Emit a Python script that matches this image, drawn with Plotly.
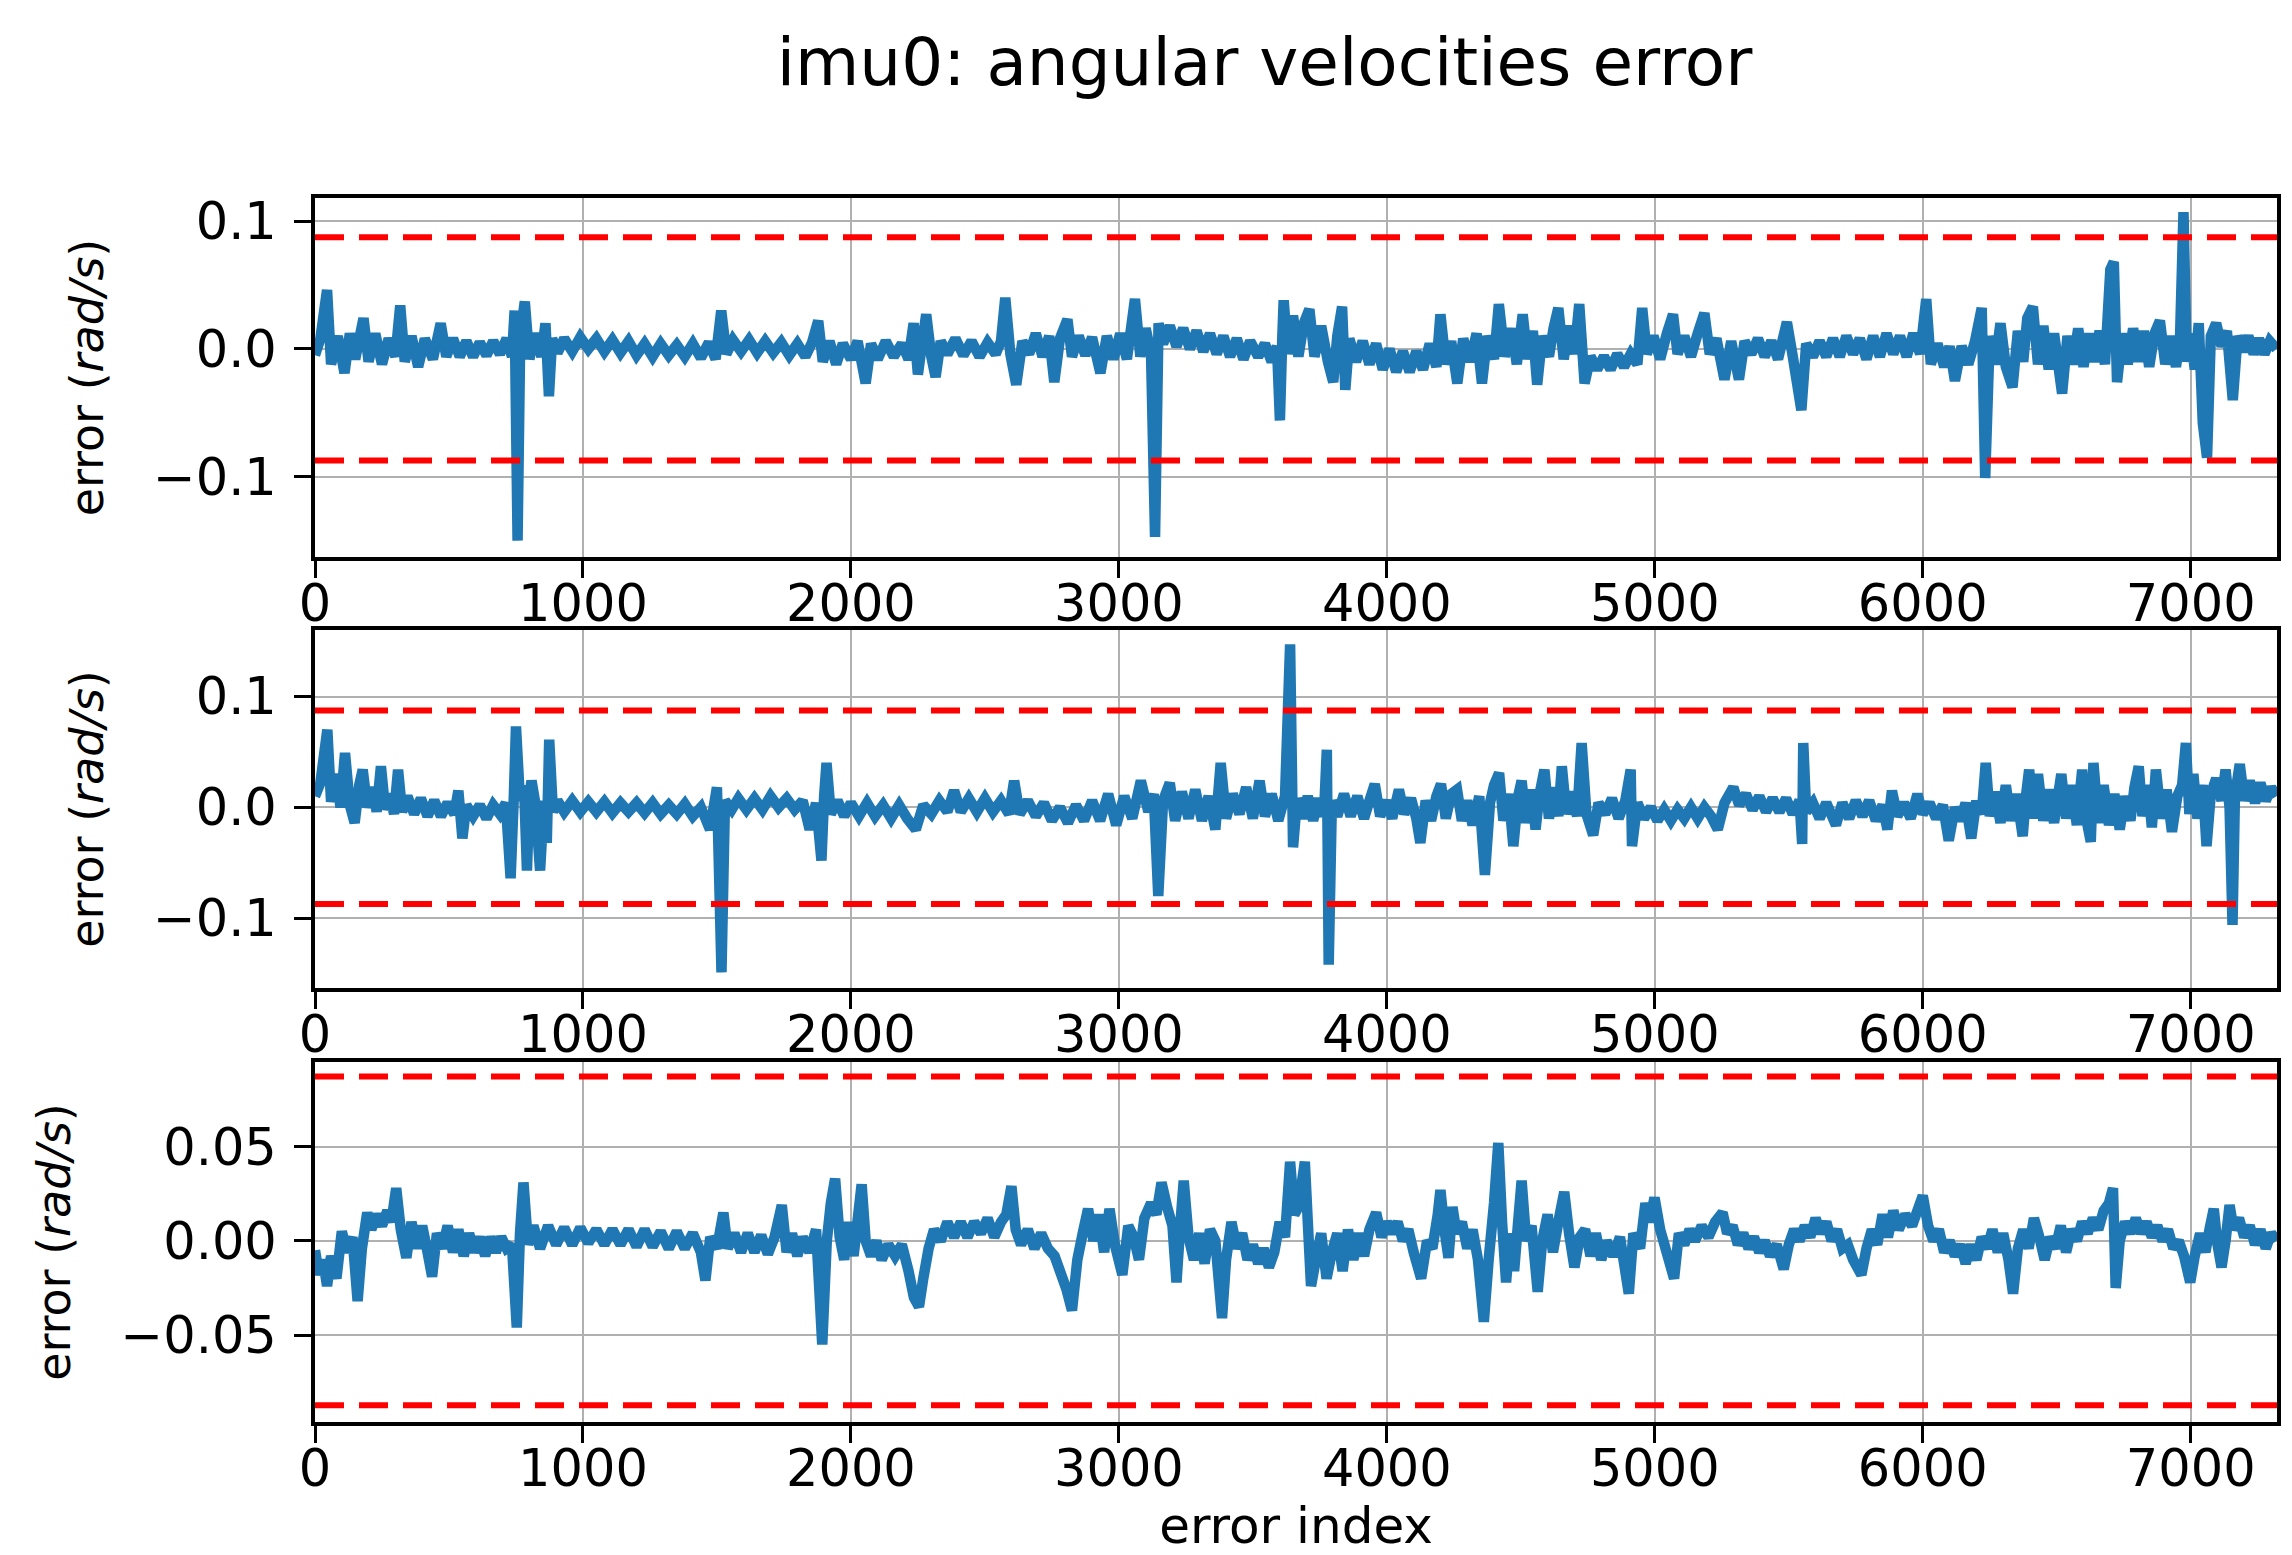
import plotly.graph_objects as go

# ---------------- data ----------------
N_SAMPLES = 7322
THRESHOLD = [0.0873, -0.0873]
X_TICKS = [0, 1000, 2000, 3000, 4000, 5000, 6000, 7000]
Y_TICKS_12 = [-0.1, 0.0, 0.1]
Y_TICKTEXT_12 = ["\u22120.1", "0.0", "0.1"]
Y_TICKS_3 = [-0.05, 0.0, 0.05]
Y_TICKTEXT_3 = ["\u22120.05", "0.00", "0.05"]

idx1 = [
    0, 20, 45, 60, 85, 110, 130, 150, 181, 200,
    225, 250, 275, 300, 318, 335, 360, 385, 410, 440,
    469, 490, 515, 540, 565, 590, 615, 640, 665, 690,
    715, 735, 745, 756, 766, 783, 800, 820, 845, 860,
    873, 885, 905, 930, 960, 990, 1020, 1050, 1080, 1110,
    1140, 1170, 1200, 1230, 1260, 1290, 1320, 1350, 1380, 1410,
    1440, 1470, 1495, 1516, 1535, 1560, 1590, 1620, 1650, 1680,
    1710, 1740, 1770, 1800, 1830, 1855, 1878, 1895, 1920, 1945,
    1970, 2000, 2025, 2055, 2075, 2100, 2130, 2160, 2190, 2215,
    2234, 2250, 2268, 2281, 2300, 2316, 2335, 2360, 2390, 2420,
    2450, 2480, 2510, 2540, 2560, 2576, 2595, 2617, 2640, 2665,
    2690, 2715, 2740, 2759, 2780, 2808, 2825, 2850, 2875, 2900,
    2931, 2955, 2980, 3005, 3030, 3060, 3080, 3100, 3120, 3135,
    3148, 3165, 3190, 3215, 3240, 3265, 3290, 3315, 3340, 3365,
    3390, 3415, 3440, 3465, 3490, 3520, 3545, 3570, 3590, 3601,
    3610, 3615, 3630, 3650, 3670, 3690, 3711, 3730, 3755, 3780,
    3800, 3815, 3833, 3845, 3860, 3885, 3910, 3935, 3960, 3985,
    4010, 4035, 4060, 4085, 4110, 4135, 4160, 4185, 4200, 4220,
    4240, 4263, 4285, 4310, 4335, 4355, 4375, 4400, 4418, 4440,
    4465, 4485, 4507, 4525, 4545, 4561, 4580, 4605, 4622, 4640,
    4660, 4680, 4700, 4718, 4738, 4760, 4785, 4810, 4835, 4860,
    4885, 4910, 4935, 4953, 4970, 4995, 5020, 5045, 5068, 5085,
    5110, 5135, 5160, 5185, 5205, 5230, 5260, 5285, 5314, 5335,
    5360, 5385, 5410, 5435, 5460, 5493, 5515, 5547, 5565, 5590,
    5615, 5640, 5665, 5690, 5715, 5740, 5765, 5790, 5815, 5840,
    5865, 5890, 5915, 5940, 5965, 5990, 6013, 6030, 6055, 6080,
    6100, 6120, 6145, 6170, 6195, 6220, 6233, 6250, 6270, 6290,
    6310, 6335, 6355, 6375, 6390, 6411, 6430, 6450, 6470, 6490,
    6520, 6540, 6560, 6580, 6600, 6620, 6640, 6660, 6680, 6700,
    6713, 6725, 6745, 6765, 6785, 6805, 6825, 6845, 6865, 6885,
    6905, 6925, 6945, 6960, 6973, 6985, 7000, 7015, 7030, 7045,
    7061, 7075, 7095, 7115, 7135, 7157, 7175, 7195, 7215, 7235,
    7255, 7275, 7295, 7320,
]
err1 = [
    -0.005, 0.008, 0.046, -0.012, 0.010, -0.019, 0.012, -0.008, 0.024, -0.010,
    0.012, -0.012, 0.008, -0.006, 0.034, -0.010, 0.010, -0.014, 0.008, -0.008,
    0.020, -0.006, 0.008, -0.006, 0.006, -0.006, 0.005, -0.005, 0.006, -0.004,
    0.008, -0.006, 0.030, -0.150, 0.010, 0.037, -0.008, 0.012, -0.006, 0.020,
    -0.037, 0.008, -0.003, 0.008, -0.002, 0.009, 0.000, 0.008, -0.002, 0.007,
    -0.003, 0.006, -0.005, 0.004, -0.006, 0.004, -0.005, 0.003, -0.006, 0.004,
    -0.007, 0.005, -0.008, 0.030, -0.004, 0.007, -0.002, 0.007, -0.003, 0.006,
    -0.003, 0.005, -0.005, 0.004, -0.006, 0.005, 0.022, -0.010, 0.006, -0.012,
    0.004, -0.008, 0.006, -0.027, 0.004, -0.008, 0.006, -0.006, 0.004, -0.008,
    0.020, -0.020, 0.008, 0.027, -0.006, -0.022, 0.006, -0.004, 0.008, -0.005,
    0.006, -0.006, 0.005, -0.004, 0.006, 0.040, -0.004, -0.028, 0.006, -0.004,
    0.012, -0.006, 0.010, -0.026, 0.008, 0.023, -0.006, 0.010, -0.005, 0.009,
    -0.019, 0.010, -0.008, 0.012, -0.008, 0.039, -0.006, 0.016, -0.004, -0.147,
    0.020, 0.004, 0.018, 0.002, 0.016, 0.000, 0.014, -0.002, 0.012, -0.004,
    0.010, -0.006, 0.008, -0.008, 0.006, -0.006, 0.004, -0.010, 0.002, -0.056,
    0.010, 0.038, -0.004, 0.026, -0.006, 0.020, 0.031, -0.006, 0.018, -0.010,
    -0.026, 0.010, 0.033, -0.032, 0.008, -0.010, 0.006, -0.012, 0.004, -0.016,
    0.000, -0.018, -0.002, -0.018, -0.002, -0.016, 0.004, -0.014, 0.027, -0.012,
    0.006, -0.027, 0.008, -0.010, 0.012, -0.027, 0.010, -0.008, 0.035, -0.006,
    0.016, -0.012, 0.027, -0.008, 0.014, -0.028, 0.010, -0.006, 0.016, 0.032,
    -0.008, 0.018, -0.004, 0.035, -0.027, -0.006, -0.016, -0.006, -0.016, -0.004,
    -0.014, -0.004, -0.012, 0.032, -0.004, 0.010, -0.008, 0.012, 0.027, -0.004,
    0.010, -0.006, 0.012, 0.028, -0.004, 0.008, -0.024, 0.006, -0.024, 0.006,
    -0.004, 0.008, -0.006, 0.006, -0.008, 0.021, -0.006, -0.048, 0.004, -0.006,
    0.006, -0.006, 0.008, -0.006, 0.010, -0.004, 0.008, -0.008, 0.010, -0.006,
    0.012, -0.004, 0.010, -0.006, 0.012, -0.004, 0.039, -0.012, 0.004, -0.014,
    0.002, -0.025, 0.002, -0.012, 0.006, 0.032, -0.101, 0.010, -0.012, 0.020,
    -0.014, -0.030, 0.014, -0.010, 0.024, 0.033, -0.012, 0.018, -0.016, 0.012,
    -0.035, 0.010, -0.012, 0.016, -0.014, 0.012, -0.010, 0.014, -0.012, 0.062,
    0.068, -0.026, 0.012, -0.012, 0.016, -0.010, 0.014, -0.014, 0.012, 0.022,
    -0.012, 0.010, -0.014, 0.008, 0.107, -0.010, 0.012, -0.016, 0.020, -0.058,
    -0.085, 0.010, 0.020, 0.002, 0.014, -0.040, 0.010, -0.002, 0.010, -0.004,
    0.008, -0.004, 0.006, 0.000,
]

idx2 = [
    0, 20, 46, 60, 80, 95, 112, 130, 148, 165,
    178, 195, 215, 230, 246, 262, 280, 295, 310, 325,
    345, 370, 395, 420, 445, 470, 495, 520, 535, 550,
    565, 590, 615, 640, 665, 690, 712, 730, 742, 750,
    765, 780, 791, 800, 808, 822, 840, 855, 865, 874,
    888, 905, 930, 960, 990, 1020, 1050, 1080, 1110, 1140,
    1170, 1200, 1230, 1260, 1290, 1320, 1350, 1380, 1410, 1440,
    1474, 1500, 1517, 1530, 1555, 1580, 1610, 1640, 1670, 1700,
    1730, 1760, 1790, 1820, 1846, 1870, 1890, 1900, 1909, 1925,
    1950, 1975, 2000, 2030, 2060, 2090, 2120, 2150, 2180, 2210,
    2242, 2270, 2300, 2330, 2360, 2385, 2410, 2440, 2470, 2500,
    2530, 2560, 2590, 2609, 2630, 2660, 2690, 2720, 2750, 2780,
    2810, 2840, 2870, 2900, 2930, 2960, 2990, 3020, 3050, 3082,
    3110, 3130, 3147, 3165, 3190, 3210, 3235, 3260, 3285, 3310,
    3335, 3360, 3380, 3400, 3425, 3450, 3475, 3500, 3525, 3545,
    3570, 3595, 3620, 3639, 3650, 3665, 3685, 3705, 3725, 3745,
    3765, 3776, 3783, 3795, 3815, 3840, 3865, 3890, 3915, 3935,
    3955, 3975, 4000, 4020, 4045, 4065, 4090, 4110, 4125, 4145,
    4165, 4185, 4202, 4220, 4240, 4262, 4280, 4300, 4320, 4345,
    4366, 4385, 4400, 4419, 4435, 4455, 4472, 4490, 4503, 4520,
    4540, 4555, 4570, 4588, 4605, 4625, 4640, 4653, 4670, 4690,
    4710, 4727, 4745, 4770, 4790, 4815, 4840, 4865, 4890, 4910,
    4915, 4935, 4960, 4985, 5010, 5035, 5060, 5085, 5110, 5135,
    5160, 5185, 5210, 5235, 5260, 5293, 5315, 5340, 5365, 5390,
    5415, 5440, 5465, 5490, 5515, 5540, 5550, 5554, 5565, 5590,
    5615, 5640, 5676, 5700, 5725, 5750, 5775, 5800, 5825, 5850,
    5868, 5885, 5905, 5930, 5955, 5980, 6000, 6025, 6050, 6075,
    6097, 6120, 6140, 6160, 6181, 6200, 6220, 6235, 6250, 6270,
    6290, 6310, 6330, 6350, 6373, 6385, 6397, 6415, 6430, 6450,
    6470, 6490, 6517, 6535, 6555, 6575, 6595, 6610, 6627, 6637,
    6655, 6675, 6695, 6715, 6735, 6755, 6775, 6790, 6806, 6820,
    6840, 6855, 6870, 6890, 6910, 6930, 6950, 6968, 6982, 6995,
    7010, 7025, 7045, 7059, 7075, 7095, 7115, 7130, 7145, 7156,
    7165, 7183, 7200, 7220, 7240, 7260, 7280, 7300, 7320,
]
err2 = [
    0.010, 0.022, 0.070, 0.005, 0.030, 0.000, 0.049, 0.002, -0.014, 0.020,
    0.034, 0.000, 0.018, -0.004, 0.037, -0.002, 0.012, -0.006, 0.034, -0.004,
    0.010, -0.006, 0.008, -0.008, 0.006, -0.008, 0.004, -0.006, 0.015, -0.028,
    0.002, -0.008, 0.002, -0.010, 0.002, -0.006, 0.004, -0.064, 0.010, 0.073,
    0.006, 0.020, -0.057, 0.010, 0.024, 0.004, -0.057, 0.006, -0.032, 0.061,
    -0.004, 0.006, -0.004, 0.006, -0.004, 0.005, -0.004, 0.005, -0.005, 0.004,
    -0.004, 0.004, -0.005, 0.004, -0.006, 0.002, -0.006, 0.003, -0.008, 0.000,
    -0.020, 0.018, -0.149, 0.006, -0.002, 0.008, -0.002, 0.008, -0.002, 0.010,
    0.000, 0.008, -0.002, 0.006, -0.020, 0.004, -0.048, 0.010, 0.040, -0.006,
    0.006, -0.008, 0.004, -0.008, 0.004, -0.008, 0.002, -0.010, 0.002, -0.010,
    -0.020, 0.002, -0.006, 0.006, -0.004, 0.015, -0.004, 0.008, -0.004, 0.008,
    -0.004, 0.006, -0.006, 0.024, -0.006, 0.006, -0.008, 0.004, -0.012, 0.000,
    -0.014, 0.002, -0.012, 0.006, -0.012, 0.012, -0.016, 0.010, -0.010, 0.024,
    -0.004, 0.012, -0.080, 0.006, 0.022, -0.012, 0.014, -0.010, 0.016, -0.012,
    0.010, -0.020, 0.040, -0.010, 0.012, -0.006, 0.018, -0.010, 0.024, -0.008,
    0.012, -0.012, 0.010, 0.147, -0.036, 0.008, -0.010, 0.010, -0.012, 0.008,
    -0.008, 0.052, -0.142, 0.006, -0.008, 0.012, -0.008, 0.010, -0.010, 0.006,
    0.021, -0.008, 0.006, -0.010, 0.016, -0.006, 0.008, -0.010, -0.032, 0.006,
    -0.012, 0.010, 0.021, -0.010, 0.012, 0.016, -0.012, 0.006, -0.016, 0.010,
    -0.061, 0.004, 0.020, 0.031, -0.012, 0.012, -0.035, 0.010, 0.024, -0.014,
    0.016, -0.020, 0.012, 0.034, -0.010, 0.018, -0.008, 0.037, -0.006, 0.014,
    -0.008, 0.058, -0.006, -0.025, 0.004, -0.006, 0.008, -0.010, 0.006, 0.034,
    -0.035, 0.004, -0.010, 0.000, -0.012, -0.002, -0.012, -0.002, -0.010, 0.000,
    -0.010, 0.000, -0.008, -0.020, 0.004, 0.018, 0.002, 0.012, -0.002, 0.010,
    -0.004, 0.008, -0.004, 0.008, -0.006, 0.006, -0.033, 0.058, -0.004, 0.004,
    -0.010, 0.004, -0.016, 0.004, -0.010, 0.006, -0.008, 0.006, -0.012, 0.002,
    -0.020, 0.015, -0.008, 0.004, -0.010, 0.012, -0.006, 0.004, -0.010, 0.002,
    -0.030, 0.000, -0.012, 0.004, -0.028, 0.006, -0.006, 0.040, -0.008, 0.014,
    -0.014, 0.020, -0.012, 0.012, -0.026, 0.010, 0.034, -0.010, 0.030, -0.012,
    0.016, -0.014, 0.030, -0.010, 0.020, -0.016, 0.034, -0.010, -0.031, 0.040,
    -0.014, 0.020, -0.016, 0.012, -0.020, 0.010, -0.012, 0.018, 0.037, -0.008,
    0.020, -0.018, 0.034, -0.010, 0.016, -0.022, 0.010, 0.020, 0.058, -0.006,
    0.030, -0.010, 0.020, -0.035, 0.012, 0.026, 0.006, 0.034, 0.000, -0.106,
    0.010, 0.039, 0.006, 0.024, 0.004, 0.022, 0.006, 0.018, 0.010,
]

idx3 = [
    0, 15, 30, 45, 60, 80, 100, 120, 140, 159,
    175, 195, 210, 230, 250, 270, 285, 303, 320, 341,
    360, 380, 400, 420, 437, 455, 475, 495, 515, 535,
    555, 575, 595, 615, 635, 655, 675, 695, 715, 735,
    753, 765, 778, 795, 815, 840, 870, 900, 930, 960,
    990, 1020, 1050, 1080, 1110, 1140, 1170, 1200, 1230, 1260,
    1290, 1320, 1350, 1380, 1410, 1440, 1457, 1475, 1500, 1524,
    1540, 1565, 1590, 1615, 1640, 1665, 1690, 1715, 1742, 1760,
    1780, 1800, 1820, 1845, 1870, 1893, 1910, 1925, 1941, 1958,
    1975, 1990, 2010, 2040, 2055, 2075, 2095, 2115, 2140, 2165,
    2190, 2215, 2235, 2254, 2270, 2290, 2310, 2335, 2360, 2385,
    2410, 2435, 2460, 2485, 2510, 2535, 2560, 2580, 2599, 2615,
    2635, 2660, 2685, 2710, 2735, 2760, 2785, 2805, 2825, 2845,
    2865, 2885, 2905, 2925, 2945, 2965, 2985, 3013, 3035, 3055,
    3075, 3095, 3120, 3140, 3159, 3180, 3200, 3215, 3230, 3242,
    3260, 3280, 3300, 3320, 3340, 3360, 3385, 3400, 3420, 3440,
    3460, 3480, 3500, 3520, 3540, 3560, 3580, 3600, 3620, 3639,
    3655, 3670, 3694, 3705, 3717, 3735, 3755, 3775, 3795, 3815,
    3835, 3855, 3875, 3895, 3915, 3935, 3960, 3980, 4000, 4020,
    4040, 4060, 4080, 4100, 4128, 4150, 4170, 4190, 4200, 4215,
    4230, 4245, 4260, 4280, 4300, 4320, 4340, 4362, 4380, 4400,
    4416, 4430, 4445, 4460, 4475, 4490, 4503, 4520, 4540, 4563,
    4580, 4600, 4620, 4640, 4662, 4680, 4700, 4720, 4740, 4760,
    4780, 4800, 4820, 4845, 4870, 4903, 4920, 4945, 4965, 4980,
    4999, 5020, 5040, 5072, 5090, 5110, 5130, 5150, 5175, 5200,
    5225, 5253, 5270, 5290, 5310, 5330, 5350, 5370, 5390, 5410,
    5430, 5455, 5481, 5500, 5520, 5540, 5560, 5580, 5600, 5620,
    5640, 5660, 5680, 5700, 5720, 5740, 5771, 5790, 5810, 5830,
    5850, 5870, 5890, 5910, 5935, 5960, 5980, 6000, 6020, 6040,
    6060, 6080, 6100, 6120, 6140, 6160, 6180, 6200, 6220, 6240,
    6260, 6280, 6300, 6320, 6337, 6355, 6375, 6395, 6415, 6435,
    6455, 6475, 6495, 6515, 6535, 6555, 6575, 6595, 6615, 6635,
    6655, 6675, 6695, 6710, 6720, 6735, 6755, 6775, 6795, 6815,
    6835, 6855, 6875, 6895, 6915, 6935, 6955, 6975, 6998, 7015,
    7035, 7055, 7070, 7086, 7100, 7115, 7130, 7145, 7160, 7180,
    7200, 7220, 7240, 7260, 7280, 7300, 7320,
]
err3 = [
    -0.005, -0.018, -0.010, -0.024, -0.008, -0.020, 0.005, -0.006, 0.002, -0.032,
    -0.004, 0.015, 0.006, 0.014, 0.008, 0.016, 0.010, 0.028, 0.006, -0.009,
    0.010, -0.004, 0.008, -0.006, -0.019, 0.004, -0.004, 0.008, -0.006, 0.006,
    -0.008, 0.004, -0.006, 0.002, -0.008, 0.002, -0.006, 0.002, -0.004, -0.002,
    -0.046, 0.004, 0.031, -0.002, 0.008, -0.004, 0.008, -0.002, 0.007, -0.002,
    0.007, -0.001, 0.006, -0.002, 0.006, -0.002, 0.006, -0.003, 0.006, -0.003,
    0.005, -0.004, 0.005, -0.004, 0.004, -0.006, -0.021, 0.002, -0.004, 0.015,
    -0.004, 0.004, -0.006, 0.004, -0.006, 0.003, -0.007, 0.002, 0.019, -0.006,
    0.004, -0.008, 0.002, -0.006, 0.006, -0.055, 0.000, 0.020, 0.033, 0.002,
    -0.010, 0.010, -0.008, 0.030, 0.000, -0.008, 0.000, -0.010, -0.002, -0.008,
    -0.002, -0.016, -0.030, -0.035, -0.020, -0.004, 0.006, 0.000, 0.010, 0.002,
    0.010, 0.002, 0.010, 0.004, 0.012, 0.002, 0.010, 0.014, 0.029, 0.006,
    -0.002, 0.006, -0.004, 0.004, -0.004, -0.008, -0.018, -0.026, -0.037, -0.010,
    0.004, 0.017, 0.000, 0.014, -0.006, 0.017, -0.002, -0.018, 0.008, 0.002,
    -0.010, 0.012, 0.020, 0.014, 0.031, 0.018, 0.008, -0.022, 0.010, 0.032,
    0.002, -0.010, 0.004, -0.012, 0.006, 0.000, -0.041, -0.010, 0.010, -0.004,
    0.004, -0.010, -0.002, -0.012, -0.004, -0.014, -0.006, 0.010, 0.002, 0.042,
    0.014, 0.018, 0.042, 0.010, -0.024, -0.010, 0.004, -0.020, -0.006, 0.004,
    -0.016, 0.006, -0.010, 0.004, -0.008, 0.006, 0.015, 0.002, 0.010, 0.004,
    0.010, 0.000, 0.006, -0.006, -0.020, 0.000, -0.004, 0.014, 0.027, 0.006,
    -0.009, 0.018, 0.004, 0.010, -0.004, 0.006, -0.010, -0.043, -0.010, 0.020,
    0.052, 0.010, -0.022, 0.004, -0.016, 0.010, 0.032, 0.000, 0.008, -0.027,
    0.000, 0.014, -0.006, 0.010, 0.026, 0.004, -0.014, 0.002, 0.006, -0.008,
    0.004, -0.010, 0.000, -0.008, 0.002, -0.028, 0.004, -0.004, 0.020, 0.010,
    0.023, 0.006, -0.004, -0.020, 0.004, -0.002, 0.006, 0.000, 0.008, 0.002,
    0.010, 0.015, 0.004, 0.008, -0.002, 0.004, -0.004, 0.002, -0.006, 0.000,
    -0.008, -0.002, -0.015, -0.002, 0.006, 0.000, 0.008, 0.002, 0.012, 0.004,
    0.010, 0.000, 0.006, -0.004, -0.002, -0.010, -0.018, -0.004, 0.006, -0.002,
    0.014, 0.002, 0.016, 0.006, 0.014, 0.008, 0.016, 0.024, 0.008, 0.000,
    0.006, -0.006, 0.000, -0.008, -0.002, -0.012, -0.002, -0.010, 0.002, -0.004,
    0.006, -0.006, 0.004, -0.010, -0.028, -0.004, 0.006, -0.004, 0.012, 0.002,
    -0.010, 0.002, -0.004, 0.008, -0.006, 0.006, 0.000, 0.010, 0.004, 0.012,
    0.006, 0.016, 0.020, 0.028, -0.025, 0.000, 0.010, 0.004, 0.012, 0.004,
    0.010, 0.002, 0.008, 0.000, 0.006, -0.004, 0.000, -0.008, -0.022, -0.008,
    0.004, -0.006, 0.006, 0.017, -0.002, -0.014, 0.000, 0.019, 0.006, 0.012,
    0.002, 0.008, -0.002, 0.006, -0.004, 0.004, 0.000,
]

for a, b in ((idx1, err1), (idx2, err2), (idx3, err3)):
    assert len(a) == len(b), (len(a), len(b))

# ---------------- figure ----------------
W, H = 2292, 1555
M_L, M_R, M_T, M_B = 315, 15, 198, 133
plot_h = H - M_T - M_B


def dom(top_px, bot_px):
    return [1 - (bot_px - M_T) / plot_h, 1 - (top_px - M_T) / plot_h]


domains = [dom(198, 557), dom(630, 988), dom(1062, 1422)]
yranges = [[-0.1628, 0.118], [-0.163, 0.160], [-0.0962, 0.0950]]
yticks = [(Y_TICKS_12, Y_TICKTEXT_12), (Y_TICKS_12, Y_TICKTEXT_12), (Y_TICKS_3, Y_TICKTEXT_3)]

FONT = "DejaVu Sans"
BLUE = "#1f77b4"
RED = "#ff0000"

fig = go.Figure()
series = [(idx1, err1), (idx2, err2), (idx3, err3)]
for i, (xs, ys) in enumerate(series):
    xa = "x" if i == 0 else f"x{i + 1}"
    ya = "y" if i == 0 else f"y{i + 1}"
    fig.add_trace(go.Scatter(x=xs, y=ys, mode="lines",
                             line=dict(color=BLUE, width=10.5, simplify=False),
                             xaxis=xa, yaxis=ya, showlegend=False,
                             hoverinfo="skip"))
    for t in THRESHOLD:
        fig.add_trace(go.Scatter(x=[0, N_SAMPLES], y=[t, t], mode="lines",
                                 line=dict(color=RED, width=6, dash="29px,15px"),
                                 xaxis=xa, yaxis=ya, showlegend=False,
                                 hoverinfo="skip"))

axis_common = dict(
    showline=True, mirror=True, linecolor="black", linewidth=4,
    ticks="outside", ticklen=17, tickwidth=3, tickcolor="black",
    showgrid=True, gridcolor="#b0b0b0", gridwidth=2, zeroline=False,
    automargin=False,
    tickfont=dict(family=FONT, size=51, color="black"),
)

layout = dict(
    width=W, height=H,
    margin=dict(l=M_L, r=M_R, t=M_T, b=M_B, pad=0, autoexpand=False),
    paper_bgcolor="white", plot_bgcolor="white",
    showlegend=False,
    title=dict(text="imu0: angular velocities error",
               x=1264.5 / W, xanchor="center", xref="container",
               y=1 - 62 / H, yanchor="middle", yref="container",
               font=dict(family=FONT, size=66, color="black")),
)
for i in range(3):
    xk = "xaxis" if i == 0 else f"xaxis{i + 1}"
    yk = "yaxis" if i == 0 else f"yaxis{i + 1}"
    ya = "y" if i == 0 else f"y{i + 1}"
    xa = "x" if i == 0 else f"x{i + 1}"
    xaxis = dict(axis_common, domain=[0, 1], anchor=ya, range=[0, N_SAMPLES],
                 tickvals=X_TICKS, ticktext=[str(v) for v in X_TICKS],
                 ticklabelstandoff=-18)
    if i == 2:
        xaxis["title"] = dict(text="error index", standoff=42,
                              font=dict(family=FONT, size=50, color="black"))
    layout[xk] = xaxis
    tv, tt = yticks[i]
    layout[yk] = dict(axis_common, domain=domains[i], anchor=xa, range=yranges[i],
                      tickvals=tv, ticktext=tt, ticklabelstandoff=7,
                      title=dict(text="error (<i>rad/s</i>)", standoff=36,
                                 font=dict(family=FONT, size=46, color="black")))

fig.update_layout(**layout)
fig.write_html("out.html")
